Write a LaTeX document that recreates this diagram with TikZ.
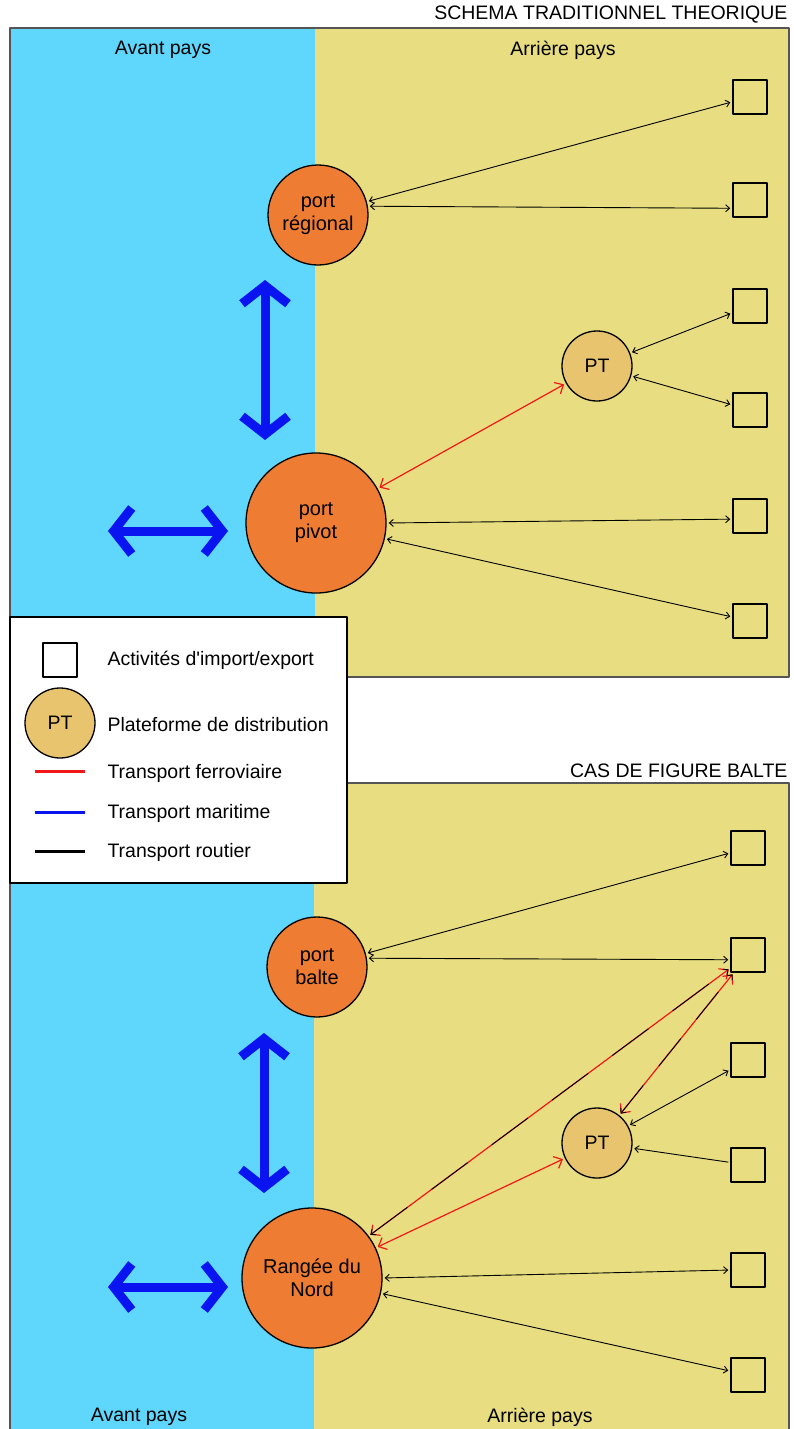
\documentclass[tikz,border=0pt]{standalone}
\usepackage{fontspec}
\setmainfont{Liberation Sans}
\usetikzlibrary{arrows.meta}
\definecolor{avant}{HTML}{5FD6FC}
\definecolor{arriere}{HTML}{E8DD80}
\definecolor{portfill}{HTML}{EE7D33}
\definecolor{ptfill}{HTML}{E8C46E}
\definecolor{bord}{HTML}{555555}
\definecolor{bleu}{HTML}{0A14F0}
\definecolor{rouge}{HTML}{F01818}
\begin{document}
\begin{tikzpicture}[x=1pt,y=-1pt,line join=round,
  txt/.style={font=\fontsize{19.5}{22}\selectfont},
  port/.style={circle,draw,line width=1.3pt,fill=portfill,align=center,inner sep=0pt,font=\fontsize{20}{23}\selectfont},
  plate/.style={circle,draw,line width=1.3pt,fill=ptfill,minimum size=70pt,inner sep=0pt,font=\fontsize{19.5}{22}\selectfont},
  activ/.style={draw,line width=1.5pt,minimum size=34pt,inner sep=0pt},
  route/.style={black,line width=0.9pt,{Straight Barb[length=4pt,width=7pt]}-{Straight Barb[length=4pt,width=7pt]},shorten <=2pt,shorten >=2pt},
  fer/.style={rouge,line width=1.2pt,{Straight Barb[length=7pt,width=13pt]}-{Straight Barb[length=7pt,width=13pt]},shorten <=2pt,shorten >=2pt},
  mer/.style={bleu,line width=9pt,{Straight Barb[length=18pt,width=46pt]}-{Straight Barb[length=18pt,width=46pt]}}]
\useasboundingbox (0,0) rectangle (793,1429);
% schema theorique
\fill[avant] (10,28) rectangle (315,677);
\fill[arriere] (315,28) rectangle (789,677);
\draw[bord,line width=1.5pt] (10,28) rectangle (789,677);
\node[txt,anchor=east] (titre1) at (791,15) {SCHEMA TRADITIONNEL THEORIQUE};
\node[txt] (av1) at (163,50) {Avant pays};
\node[txt] (ar1) at (563,50) {Arrière pays};
\node[port,minimum size=100pt] (reg) at (318,215) {port\\régional};
\node[port,minimum size=140pt] (piv) at (316,523) {port\\pivot};
\node[plate] (pt1) at (597,366) {PT};
\node[activ] (b11) at (750,97) {};
\node[activ] (b12) at (750,200) {};
\node[activ] (b13) at (750,306) {};
\node[activ] (b14) at (750,410) {};
\node[activ] (b15) at (750,516) {};
\node[activ] (b16) at (750,621) {};
\coordinate (v1h) at (265,280);
\coordinate (v1b) at (265,440);
\coordinate (h1g) at (108,531);
\coordinate (h1d) at (228,531);
\draw[mer] (v1h) -- (v1b);
\draw[mer] (h1g) -- (h1d);
\draw[route] (reg) -- (b11);
\draw[route] (reg.10) -- (b12.205);
\draw[route] (pt1) -- (b13);
\draw[route] (pt1) -- (b14);
\draw[fer] (piv) -- (pt1);
\draw[route] (piv.east) -- (b15.190);
\draw[route] (piv) -- (b16);
% cas de figure balte
\fill[avant] (10,783) rectangle (314,1429);
\fill[arriere] (314,783) rectangle (789,1429);
\draw[bord,line width=1.5pt] (10,1432) -- (10,783) -- (789,783) -- (789,1432);
\node[txt,anchor=east] (titre2) at (791,771) {CAS DE FIGURE BALTE};
\node[txt] (av2) at (139,1417) {Avant pays};
\node[txt] (ar2) at (540,1417) {Arrière pays};
\node[port,minimum size=100pt] (balte) at (317,967) {port\\balte};
\node[port,minimum size=140pt] (nord) at (312,1278) {Rangée du\\Nord};
\node[plate] (pt2) at (597,1143) {PT};
\node[activ] (b21) at (748,848) {};
\node[activ] (b22) at (748,955) {};
\node[activ] (b23) at (748,1060) {};
\node[activ] (b24) at (748,1165) {};
\node[activ] (b25) at (748,1270) {};
\node[activ] (b26) at (748,1375) {};
\coordinate (v2h) at (264,1033);
\coordinate (v2b) at (264,1193);
\coordinate (h2g) at (108,1287);
\coordinate (h2d) at (228,1287);
\draw[mer] (v2h) -- (v2b);
\draw[mer] (h2g) -- (h2d);
\draw[route] (balte) -- (b21);
\draw[route] (balte.10) -- (b22.195);
\draw[fer] (nord) -- (b22);
\draw[route,dash pattern=on 45pt off 30pt] (nord) -- (b22);
\draw[fer] (pt2) -- (b22);
\draw[route,dash pattern=on 35pt off 25pt] (pt2) -- (b22);
\draw[route] (pt2) -- (b23);
\draw[route,-{Straight Barb[length=4pt,width=7pt]}] (b24) -- (pt2);
\draw[fer] (nord) -- (pt2);
\draw[route] (nord.east) -- (b25.west);
\draw[route] (nord) -- (b26);
% legende
\draw[black,line width=1.5pt,fill=white] (10,617) rectangle (347,883);
\node[activ] (lb) at (60,660) {};
\node[plate,minimum width=70pt,minimum height=66pt] (lpt) at (60,723) {PT};
\coordinate (lfg) at (35,771);
\coordinate (lfd) at (85,771);
\coordinate (lmg) at (35,812);
\coordinate (lmd) at (85,812);
\coordinate (lrg) at (35,851);
\coordinate (lrd) at (85,851);
\draw[rouge,line width=3pt] (lfg) -- (lfd);
\draw[bleu,line width=3pt] (lmg) -- (lmd);
\draw[black,line width=3pt] (lrg) -- (lrd);
\node[txt,anchor=west] (t1) at (104,660) {Activités d\textquotesingle import/export};
\node[txt,anchor=west] (t2) at (104,725) {Plateforme de distribution};
\node[txt,anchor=west] (t3) at (104,773) {Transport ferroviaire};
\node[txt,anchor=west] (t4) at (104,813) {Transport maritime};
\node[txt,anchor=west] (t5) at (104,852) {Transport routier};
\end{tikzpicture}
\end{document}
